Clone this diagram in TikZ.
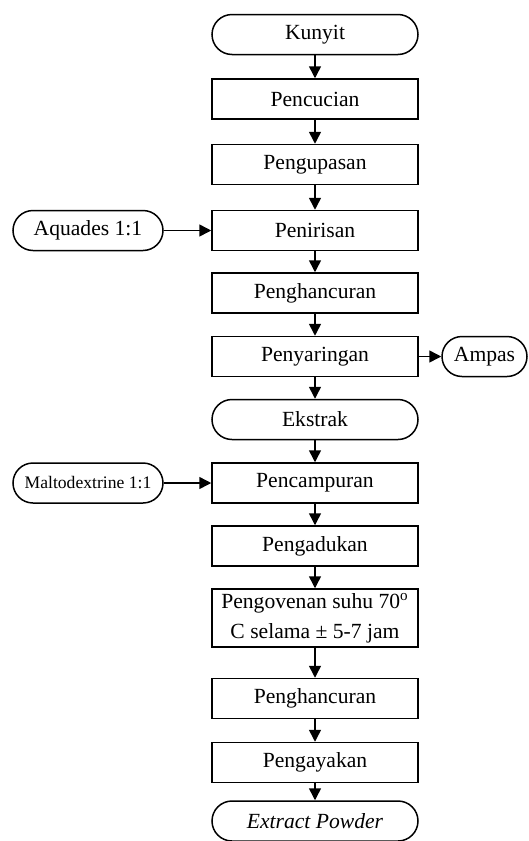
\documentclass[tikz,border=0pt]{standalone}
\usepackage{fontspec}
\setmainfont{Liberation Serif}
\usetikzlibrary{arrows.meta}

\tikzset{
  proses/.style={draw, line width=0.75pt, minimum width=103pt, minimum height=20pt,
    inner sep=0pt, align=center, font=\fontsize{10.8}{15}\selectfont},
  terminal/.style={proses, rounded corners=10pt},
  bahan/.style={terminal, minimum width=75pt},
  panah/.style={-{Triangle[length=6pt,width=6pt]}, line width=0.75pt},
}

\begin{document}
\begin{tikzpicture}[x=0.5pt, y=-0.5pt]
        \useasboundingbox (0,0) rectangle (529,841);
        % alur utama
        \node[terminal] (kunyit) at (315,34.5) {Kunyit};
        \node[proses] (cuci) at (315,99) {Pencucian};
        \node[proses] (kupas) at (315,164.5) {Pengupasan};
        \node[proses] (tiris) at (315,230.5) {Penirisan};
        \node[proses] (hancur) at (315,293) {Penghancuran};
        \node[proses] (saring) at (315,356.5) {Penyaringan};
        \node[terminal] (ekstrak) at (315,419.5) {Ekstrak};
        \node[proses] (campur) at (315,483) {Pencampuran};
        \node[proses] (aduk) at (315,546) {Pengadukan};
        \node[proses, minimum height=29pt] (oven) at (315,618) {Pengovenan suhu 70\textsuperscript{o}\\C selama ± 5-7 jam};
        \node[proses] (hancurb) at (315,698.5) {Penghancuran};
        \node[proses] (ayak) at (315,762.5) {Pengayakan};
        \node[terminal] (powder) at (315,821) {\textit{Extract Powder}};
        % bahan masuk dan keluar
        \node[bahan] (aquades) at (88,230.5) {Aquades 1:1};
        \node[bahan, font=\fontsize{8.8}{11}\selectfont] (malto) at (88,483) {Maltodextrine 1:1};
        \node[terminal, minimum width=42.5pt] (ampas) at (484.5,356.5) {Ampas};

        \foreach \a/\b in {kunyit/cuci, cuci/kupas, kupas/tiris, tiris/hancur, hancur/saring,
            saring/ekstrak, ekstrak/campur, campur/aduk, aduk/oven, oven/hancurb,
            hancurb/ayak, ayak/powder}
          \draw[panah] (\a.south) -- (\b.north);
        \draw[panah] (aquades) -- (tiris);
        \draw[panah] (malto) -- (campur);
        \draw[panah] (saring) -- (ampas);
    \end{tikzpicture}
\end{document}
